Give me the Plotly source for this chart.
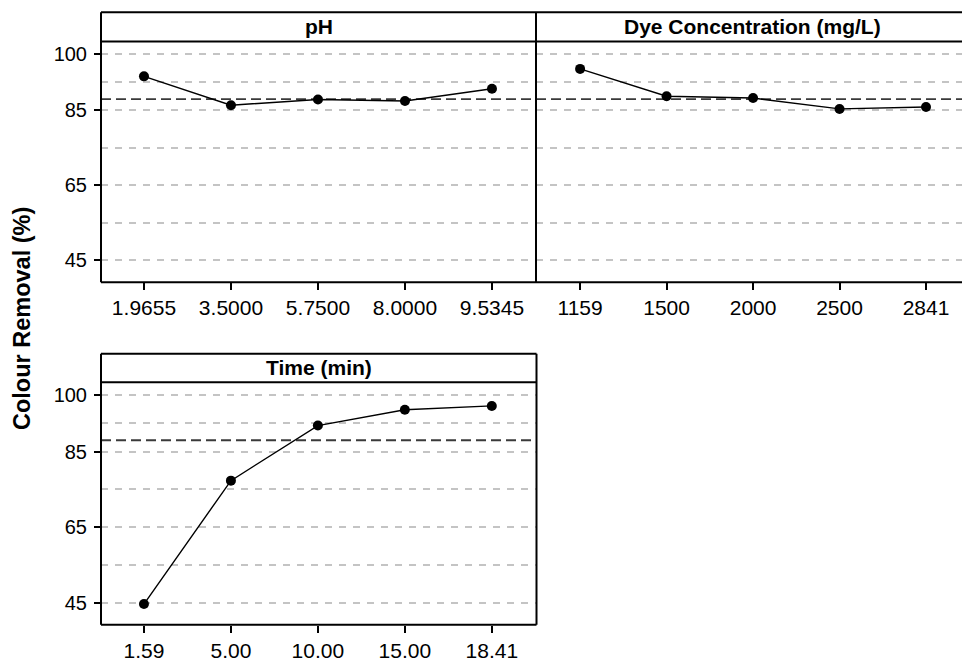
import plotly.graph_objects as go

# ---- data ----
y_label = "Colour Removal (%)"
grand_mean = 88.0
panel_titles = ["pH", "Dye Concentration (mg/L)", "Time (min)"]
ph_levels = ["1.9655", "3.5000", "5.7500", "8.0000", "9.5345"]
ph_means = [94.1, 86.4, 87.9, 87.5, 90.8]
dye_levels = ["1159", "1500", "2000", "2500", "2841"]
dye_means = [96.1, 88.8, 88.3, 85.4, 85.9]
time_levels = ["1.59", "5.00", "10.00", "15.00", "18.41"]
time_means = [44.6, 77.3, 91.9, 96.1, 97.1]
y_ticks = [45, 65, 85, 100]
y_minor_grid = [55, 75, 92.5]

W, H = 962, 662
def px(x):
    return x / W
def py(y):
    return 1 - y / H

FONT = "Liberation Sans, Arial, sans-serif"
GRID = "#c4c4c4"

fig = go.Figure()
series = [(ph_levels, ph_means, "x", "y"),
          (dye_levels, dye_means, "x2", "y2"),
          (time_levels, time_means, "x3", "y3")]
for lv, mv, xa, ya in series:
    fig.add_trace(go.Scatter(x=lv, y=mv, mode="lines+markers", xaxis=xa, yaxis=ya,
                             line=dict(color="black", width=1.4),
                             marker=dict(size=10, color="black"),
                             showlegend=False, hoverinfo="x+y"))

# panel geometry (pixels)
p1 = dict(l=101, r=536, top=12.3, strip=41.7, b=283)
p2 = dict(l=536, r=962, top=12.3, strip=41.7, b=283)
p3 = dict(l=101, r=536.5, top=354.7, strip=383.3, b=626.7)

def yaxis_cfg(p, labels):
    return dict(domain=[py(p["b"]), py(p["strip"])], range=[39.1, 103.4],
                tickmode="array", tickvals=y_ticks, showticklabels=labels,
                ticks="outside" if labels else "", ticklen=6, tickwidth=1.5, tickcolor="black",
                ticklabelstandoff=3,
                tickfont=dict(family=FONT, size=20, color="black"),
                showgrid=True, gridcolor=GRID, gridwidth=1.6, griddash="7px,7px",
                minor=dict(tickmode="array", tickvals=y_minor_grid, showgrid=True,
                           gridcolor=GRID, gridwidth=1.6, griddash="7px,7px", ticks=""),
                zeroline=False, showline=False, fixedrange=True)

def xaxis_cfg(p, rng, anchor):
    return dict(domain=[px(p["l"]), px(p["r"])], type="category", range=rng, anchor=anchor,
                ticks="outside", ticklen=7, tickwidth=1.5, tickcolor="black",
                tickfont=dict(family=FONT, size=21, color="black"),
                showgrid=False, zeroline=False, showline=False, fixedrange=True)

fig.update_layout(
    width=W, height=H, margin=dict(l=0, r=0, t=0, b=0),
    paper_bgcolor="white", plot_bgcolor="white",
    xaxis=xaxis_cfg(p1, [-0.494, 4.506], "y"),
    yaxis=yaxis_cfg(p1, True) | dict(anchor="x"),
    xaxis2=xaxis_cfg(p2, [-0.51, 4.416], "y2"),
    yaxis2=yaxis_cfg(p2, False) | dict(anchor="x2"),
    xaxis3=xaxis_cfg(p3, [-0.494, 4.514], "y3"),
    yaxis3=yaxis_cfg(p3, True) | dict(anchor="x3"),
)

shapes = []
# grand mean reference lines
for xa, ya in [("x", "y"), ("x2", "y2"), ("x3", "y3")]:
    shapes.append(dict(type="line", xref=f"{xa} domain", x0=0, x1=1, yref=ya,
                       y0=grand_mean, y1=grand_mean,
                       line=dict(color="#3a3a3a", width=1.8, dash="10px,5px"), layer="below"))

def seg(x0, y0, x1, y1):
    shapes.append(dict(type="line", xref="paper", yref="paper",
                       x0=px(x0), y0=py(y0), x1=px(x1), y1=py(y1),
                       line=dict(color="black", width=2), layer="above"))

for p, right_border in [(p1, True), (p3, True), (p2, False)]:
    seg(p["l"], p["top"], p["r"], p["top"])
    seg(p["l"], p["strip"], p["r"], p["strip"])
    seg(p["l"], p["b"], p["r"], p["b"])
    seg(p["l"], p["top"], p["l"], p["b"])
    if right_border:
        seg(p["r"], p["top"], p["r"], p["b"])
fig.update_layout(shapes=shapes)

annotations = []
for p, title, cx in [(p1, panel_titles[0], (p1["l"] + p1["r"]) / 2),
                     (p2, panel_titles[1], 752),
                     (p3, panel_titles[2], (p3["l"] + p3["r"]) / 2)]:
    annotations.append(dict(text=f"<b>{title}</b>", xref="paper", yref="paper",
                            x=px(cx), y=py((p["top"] + p["strip"]) / 2),
                            xanchor="center", yanchor="middle", showarrow=False,
                            font=dict(family=FONT, size=21, color="black")))
annotations.append(dict(text=f"<b>{y_label}</b>", xref="paper", yref="paper",
                        x=px(22), y=py(320), xanchor="center", yanchor="middle",
                        textangle=-90, showarrow=False,
                        font=dict(family=FONT, size=23.5, color="black")))
fig.update_layout(annotations=annotations)

fig.write_html("out.html")
